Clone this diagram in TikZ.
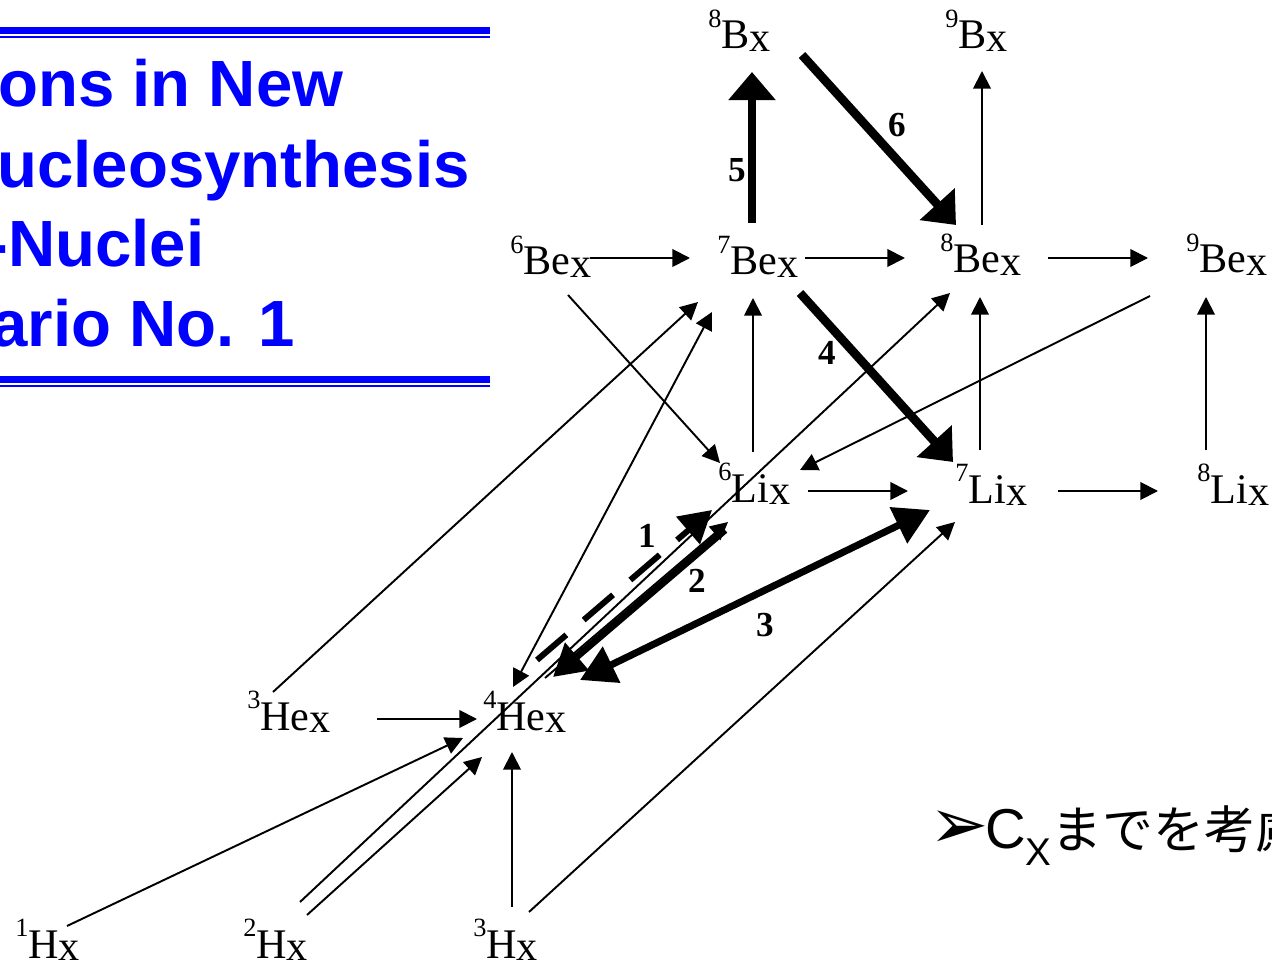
\documentclass[tikz,border=0pt]{standalone}
\usepackage{fontspec}
\setmainfont{Liberation Serif}
\newfontfamily\arialfont{Liberation Sans}
\newfontfamily\cjkfont{Noto Sans CJK JP}
\newfontfamily\symfont{DejaVu Sans}
\usetikzlibrary{arrows.meta,calc}
\definecolor{titleblue}{RGB}{0,0,255}
\newcommand{\nucl}[2]{\raisebox{12pt}{\fontsize{15}{15}\selectfont #1}#2\raisebox{-1.5pt}{x}}
\tikzset{
  nuc/.style={anchor=base west, inner sep=0pt, font=\fontsize{24}{24}\selectfont},
  titletext/.style={anchor=base west, inner sep=0pt, text=titleblue, font=\arialfont\bfseries\fontsize{37.2}{37.2}\selectfont},
  thinarrow/.style={line width=1.1pt, -{Triangle[length=10pt,width=10pt]}},
  thinboth/.style={line width=1.1pt, {Triangle[length=10pt,width=10pt]}-{Triangle[length=10pt,width=10pt]}},
  thickarrow/.style={line width=5pt, -{Triangle[length=16pt,width=26pt]}},
  medarrow/.style={line width=4pt, -{Triangle[length=18pt,width=20pt]}},
  dblarrow/.style={line width=4pt, {Triangle[length=20pt,width=22pt]}-{Triangle[length=20pt,width=22pt]}},
  dasharrow/.style={line width=3.4pt, dash pattern=on 22pt off 13pt, -{Triangle[length=18pt,width=20pt]}},
  numlabel/.style={inner sep=0pt, font=\bfseries\fontsize{20}{20}\selectfont},
}
\begin{document}
\begin{tikzpicture}[x=0.02cm,y=-0.02cm]
\useasboundingbox (0,0) rectangle (1272,966);
% title bars
\fill[titleblue] (0,27) rectangle (490,34);
\fill[titleblue] (0,36.5) rectangle (490,38.5);
\fill[titleblue] (0,376) rectangle (490,383);
\fill[titleblue] (0,385) rectangle (490,387);
\node[titletext] (t1) at (-2,107) {ons in New};
\node[titletext] (t2) at (-3,188) {ucleosynthesis};
\node[titletext] (t3) at (-14,267) {-Nuclei};
\node[titletext] (t4) at (-9,347) {ario No. 1};
% nuclei
\coordinate (pB8) at (708,49);
\coordinate (pB9) at (945,49);
\coordinate (pBe6) at (510,275);
\coordinate (pBe7) at (717,275);
\coordinate (pBe8) at (940,273);
\coordinate (pBe9) at (1186,273);
\coordinate (pLi6) at (718,502);
\coordinate (pLi7) at (955,503);
\coordinate (pLi8) at (1197,503);
\coordinate (pHe3) at (247,730);
\coordinate (pHe4) at (483,730);
\coordinate (pH1) at (15,958);
\coordinate (pH2) at (243,958);
\coordinate (pH3) at (473,958);
\node[nuc] (B8) at (pB8) {\nucl{8}{B}};
\node[nuc] (B9) at (pB9) {\nucl{9}{B}};
\node[nuc] (Be6) at (pBe6) {\nucl{6}{Be}};
\node[nuc] (Be7) at (pBe7) {\nucl{7}{Be}};
\node[nuc] (Be8) at (pBe8) {\nucl{8}{Be}};
\node[nuc] (Be9) at (pBe9) {\nucl{9}{Be}};
\node[nuc] (Li6) at (pLi6) {\nucl{6}{Li}};
\node[nuc] (Li7) at (pLi7) {\nucl{7}{Li}};
\node[nuc] (Li8) at (pLi8) {\nucl{8}{Li}};
\node[nuc] (He3) at (pHe3) {\nucl{3}{He}};
\node[nuc] (He4) at (pHe4) {\nucl{4}{He}};
\node[nuc] (H1) at (pH1) {\nucl{1}{H}};
\node[nuc] (H2) at (pH2) {\nucl{2}{H}};
\node[nuc] (H3) at (pH3) {\nucl{3}{H}};
% horizontal thin arrows
\draw[thinarrow] ($(pBe6)+(80,-17)$) -- ($(pBe7)+(-27,-17)$);
\draw[thinarrow] ($(pBe7)+(88,-17)$) -- ($(pBe8)+(-35,-15)$);
\draw[thinarrow] ($(pBe8)+(108,-15)$) -- ($(pBe9)+(-38,-15)$);
\draw[thinarrow] ($(pLi6)+(90,-11)$) -- ($(pLi7)+(-47,-12)$);
\draw[thinarrow] ($(pLi7)+(103,-12)$) -- ($(pLi8)+(-39,-12)$);
\draw[thinarrow] ($(pHe3)+(130,-11)$) -- ($(pHe4)+(-6,-11)$);
% vertical thin arrows
\draw[thinarrow] ($(pLi6)+(35,-50)$) -- ($(pBe7)+(36,23)$);
\draw[thinarrow] ($(pLi7)+(25,-53)$) -- ($(pBe8)+(40,24)$);
\draw[thinarrow] ($(pLi8)+(9,-53)$) -- ($(pBe9)+(20,24)$);
\draw[thinarrow] ($(pBe8)+(42,-48)$) -- ($(pB9)+(37,22)$);
\draw[thinarrow] ($(pH3)+(39,-51)$) -- ($(pHe4)+(29,22)$);
% thick numbered arrows
\draw[thickarrow] ($(pBe7)+(35,-52)$) -- ($(pB8)+(44,23)$);
\node[numlabel] (l5) at (737,170) {5};
\draw[thickarrow] ($(pB8)+(94,6)$) -- ($(pBe8)+(16,-48)$);
\node[numlabel] (l6) at (897,125) {6};
\draw[thickarrow] ($(pBe7)+(83,18)$) -- ($(pLi7)+(-2,-41)$);
\node[numlabel] (l4) at (827,353) {4};
% diagonal thin arrows
\draw[thinarrow] ($(pBe6)+(58,20)$) -- ($(pLi6)+(2,-39)$);
\draw[thinarrow] ($(pHe3)+(26,-38)$) -- ($(pBe7)+(-19,27)$);
\draw[thinboth] ($(pHe4)+(30,-43)$) -- ($(pBe7)+(-5,37)$);
\draw[thinarrow] ($(pH2)+(57,-56)$) -- ($(pBe8)+(10,20)$);
\draw[thinarrow] ($(pBe9)+(-36,23)$) -- ($(pLi6)+(82,-32)$);
\draw[thinarrow] ($(pH1)+(52,-32)$) -- ($(pHe4)+(-20,8)$);
\draw[thinarrow] ($(pH2)+(64,-43)$) -- ($(pHe4)+(-1,27)$);
\draw[thinarrow] ($(pH3)+(56,-46)$) -- ($(pLi7)+(0,19)$);
\draw[thinarrow] ($(pHe4)+(62,-52)$) -- ($(pLi6)+(10,20)$);
% arrows 1,2,3
\draw[dblarrow] ($(pHe4)+(97,-50)$) -- ($(pLi7)+(-25,7)$);
\node[numlabel] (l3) at (765,625) {3};
\draw[medarrow] ($(pLi6)+(7,28)$) -- ($(pHe4)+(70,-53)$);
\node[numlabel] (l2) at (697,581) {2};
\draw[dasharrow] ($(pHe4)+(54,-70)$) -- ($(pLi6)+(-6,8)$);
\node[numlabel] (l1) at (647,536) {1};
% bullet text
\node[anchor=base west, inner sep=0pt, font=\fontsize{32}{32}\selectfont] (bullet) at (929,848)
  {{\symfont\fontsize{36}{36}\selectfont\scalebox{1.12}{➢}}\hspace{-2pt}{\arialfont C\raisebox{-10pt}{\fontsize{22}{22}\selectfont X}}{\cjkfont\fontsize{29}{29}\selectfont までを考慮}};
\end{tikzpicture}
\end{document}
